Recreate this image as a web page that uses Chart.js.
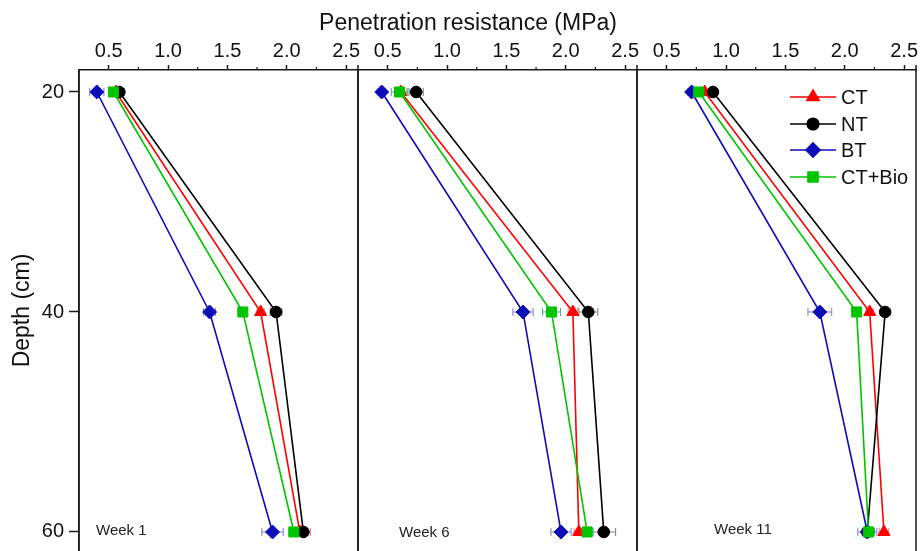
<!DOCTYPE html>
<html>
<head>
<meta charset="utf-8">
<script src="https://cdn.jsdelivr.net/npm/chart.js@4.4.0/dist/chart.umd.min.js"></script>
<style>
  html, body { margin: 0; padding: 0; background: #fff; overflow: hidden; }
  #wrap { position: relative; width: 921px; height: 551px; overflow: hidden; }
  #wrap canvas { position: absolute; left: 0; top: 0; }
  #xtitle { position: absolute; left: 268px; width: 400px; top: 9px; line-height: 27px; text-align: center;
            font: 23px "Liberation Sans", Arial, sans-serif; color: #111; }
</style>
</head>
<body>
<div id="wrap">
  <canvas id="c0" width="940" height="551"></canvas>
  <canvas id="c1" width="940" height="551"></canvas>
  <canvas id="c2" width="940" height="551"></canvas>
  <div id="xtitle">Penetration resistance (MPa)</div>
</div>
<script>
const depths = [20, 40, 60];
const weeks = ['Week 1', 'Week 6', 'Week 11'];
const treatments = ['CT', 'NT', 'BT', 'CT+Bio'];
const xTicks = [0.5, 1.0, 1.5, 2.0, 2.5];
const xMinorTicks = [0.75, 1.25, 1.75, 2.25];
const yTicks = [20, 40, 60];

// mean penetration resistance (MPa): one row per week, values at 20 / 40 / 60 cm
const ctMean  = [[0.56, 1.78, 2.11], [0.61, 2.06, 2.11], [0.82, 2.21, 2.33]];
const ntMean  = [[0.59, 1.91, 2.14], [0.74, 2.19, 2.32], [0.89, 2.34, 2.19]];
const btMean  = [[0.40, 1.35, 1.88], [0.45, 1.64, 1.96], [0.71, 1.79, 2.19]];
const bioMean = [[0.54, 1.63, 2.06], [0.60, 1.88, 2.18], [0.77, 2.10, 2.20]];

// error bars (+/- MPa)
const ctErr  = [[0.03, 0.03, 0.09], [0.05, 0.04, 0.04], [0.03, 0.03, 0.04]];
const ntErr  = [[0.04, 0.05, 0.03], [0.06, 0.08, 0.10], [0.03, 0.04, 0.04]];
const btErr  = [[0.06, 0.05, 0.09], [0.03, 0.085, 0.085], [0.03, 0.10, 0.08]];
const bioErr = [[0.04, 0.03, 0.04], [0.07, 0.075, 0.05], [0.03, 0.03, 0.05]];

const series = [
  { mean: ctMean,  err: ctErr,  color: '#ff0000', errColor: '#f08080', style: 'triangle', radius: 7,   order: 4 },
  { mean: ntMean,  err: ntErr,  color: '#000000', errColor: '#808080', style: 'circle',   radius: 5.8, order: 3 },
  { mean: btMean,  err: btErr,  color: '#0c0cb8', errColor: '#7c7cd8', style: 'rectRot',  radius: 7,   order: 2 },
  { mean: bioMean, err: bioErr, color: '#00c400', errColor: '#40a890', style: 'rect',     radius: 7.1, order: 1 }
];

// layout
const canvasW = 940;
const panelLeft = [79, 358, 637];
const panelRight = [358, 637, 916];
const weekLabelX = [96, 399, 714];
const weekLabelY = [531, 533, 530];
const axisColor = '#1a1a1a';

Chart.defaults.font.family = '"Liberation Sans", Arial, sans-serif';
Chart.defaults.color = '#111';

const framePlugin = {
  id: 'frame',
  afterDraw(chart) {
    const { ctx, chartArea: a } = chart;
    const xs = chart.scales.x;
    ctx.save();
    ctx.strokeStyle = axisColor;
    ctx.lineWidth = 1.5;
    ctx.beginPath();
    ctx.moveTo(a.left, a.top); ctx.lineTo(a.left, a.bottom);
    ctx.moveTo(a.right, a.top - 5); ctx.lineTo(a.right, a.bottom);
    ctx.stroke();
    ctx.lineWidth = 1.2;
    ctx.beginPath();
    xMinorTicks.forEach(v => {
      const p = xs.getPixelForValue(v);
      ctx.moveTo(p, a.top); ctx.lineTo(p, a.top - 3);
    });
    ctx.stroke();
    ctx.restore();
  }
};

const errorBarPlugin = {
  id: 'errorBars',
  beforeDatasetsDraw(chart) {
    const { ctx } = chart;
    const xs = chart.scales.x, ys = chart.scales.y;
    chart.data.datasets.forEach(ds => {
      ctx.save();
      ctx.strokeStyle = ds.errColor;
      ctx.lineWidth = 1;
      ds.data.forEach((pt, k) => {
        const e = ds.errors[k];
        const x0 = xs.getPixelForValue(pt.x - e);
        const x1 = xs.getPixelForValue(pt.x + e);
        const y = ys.getPixelForValue(pt.y);
        ctx.beginPath();
        ctx.moveTo(x0, y); ctx.lineTo(x1, y);
        ctx.moveTo(x0, y - 4); ctx.lineTo(x0, y + 4);
        ctx.moveTo(x1, y - 4); ctx.lineTo(x1, y + 4);
        ctx.stroke();
      });
      ctx.restore();
    });
  }
};

const weekLabelPlugin = {
  id: 'weekLabel',
  afterDraw(chart, args, opts) {
    const { ctx } = chart;
    ctx.save();
    ctx.font = '15px "Liberation Sans", Arial, sans-serif';
    ctx.fillStyle = '#222';
    ctx.textBaseline = 'middle';
    ctx.fillText(opts.text, opts.x, opts.y);
    ctx.restore();
  }
};

const legendPlugin = {
  id: 'lineLegend',
  afterDraw(chart) {
    const { ctx } = chart;
    const rows = [97, 124, 150, 177];
    ctx.save();
    chart.data.datasets.forEach((ds, i) => {
      const y = rows[i];
      ctx.strokeStyle = ds.borderColor;
      ctx.lineWidth = 1.6;
      ctx.beginPath();
      ctx.moveTo(790, y); ctx.lineTo(836, y);
      ctx.stroke();
      ctx.fillStyle = ds.borderColor;
      Chart.helpers.drawPoint(ctx, { pointStyle: ds.pointStyle, radius: ds.pointRadius, borderWidth: 1, rotation: 0 }, 813, y);
      ctx.fillStyle = '#111';
      ctx.font = '20px "Liberation Sans", Arial, sans-serif';
      ctx.textBaseline = 'middle';
      ctx.fillText(ds.label, 841, y + 1);
    });
    ctx.restore();
  }
};

weeks.forEach((week, w) => {
  const first = w === 0;
  const plugins = [errorBarPlugin, framePlugin, weekLabelPlugin];
  if (w === 2) plugins.push(legendPlugin);

  new Chart(document.getElementById('c' + w), {
    type: 'line',
    data: {
      datasets: series.map((s, i) => ({
        label: treatments[i],
        data: depths.map((d, k) => ({ x: s.mean[w][k], y: d })),
        errors: s.err[w],
        errColor: s.errColor,
        borderColor: s.color,
        backgroundColor: s.color,
        borderWidth: 1.6,
        pointStyle: s.style,
        pointRadius: s.radius,
        pointBorderWidth: 1,
        pointBackgroundColor: s.color,
        pointBorderColor: s.color,
        tension: 0,
        order: s.order,
        clip: false
      }))
    },
    options: {
      responsive: false,
      animation: false,
      layout: {
        autoPadding: false,
        padding: { left: first ? 0 : panelLeft[w], right: canvasW - panelRight[w], top: 30, bottom: 0 }
      },
      plugins: {
        legend: { display: false },
        tooltip: { enabled: false },
        weekLabel: { text: week, x: weekLabelX[w], y: weekLabelY[w] }
      },
      scales: {
        x: {
          type: 'linear',
          position: 'top',
          min: 0.25,
          max: 2.6,
          afterBuildTicks: sc => { sc.ticks = xTicks.map(v => ({ value: v })); },
          afterFit: sc => { sc.height = 40; sc.paddingLeft = 0; sc.paddingRight = 0; sc.paddingTop = 0; sc.paddingBottom = 0; },
          ticks: { font: { size: 20 }, color: '#111', padding: 2, maxRotation: 0, callback: v => v.toFixed(1) },
          grid: { drawOnChartArea: false, tickLength: 5, tickColor: axisColor, tickWidth: 1.5 },
          border: { color: axisColor, width: 1.5 }
        },
        y: {
          type: 'linear',
          reverse: true,
          min: 18,
          max: 61.73,
          afterBuildTicks: sc => { sc.ticks = yTicks.map(v => ({ value: v })); },
          afterFit: sc => { sc.width = first ? 79 : 0; sc.paddingTop = 0; sc.paddingBottom = 0; sc.paddingLeft = 0; sc.paddingRight = 0; },
          title: { display: first, text: 'Depth (cm)', font: { size: 23 }, color: '#111', padding: { top: 9, bottom: 0 } },
          ticks: { display: first, font: { size: 20 }, color: '#111', padding: 5 },
          grid: { display: first, drawOnChartArea: false, tickLength: 10, tickColor: axisColor, tickWidth: 1.5 },
          border: { display: first, color: axisColor, width: 1.5 }
        }
      }
    },
    plugins: plugins
  });
});
</script>
</body>
</html>
